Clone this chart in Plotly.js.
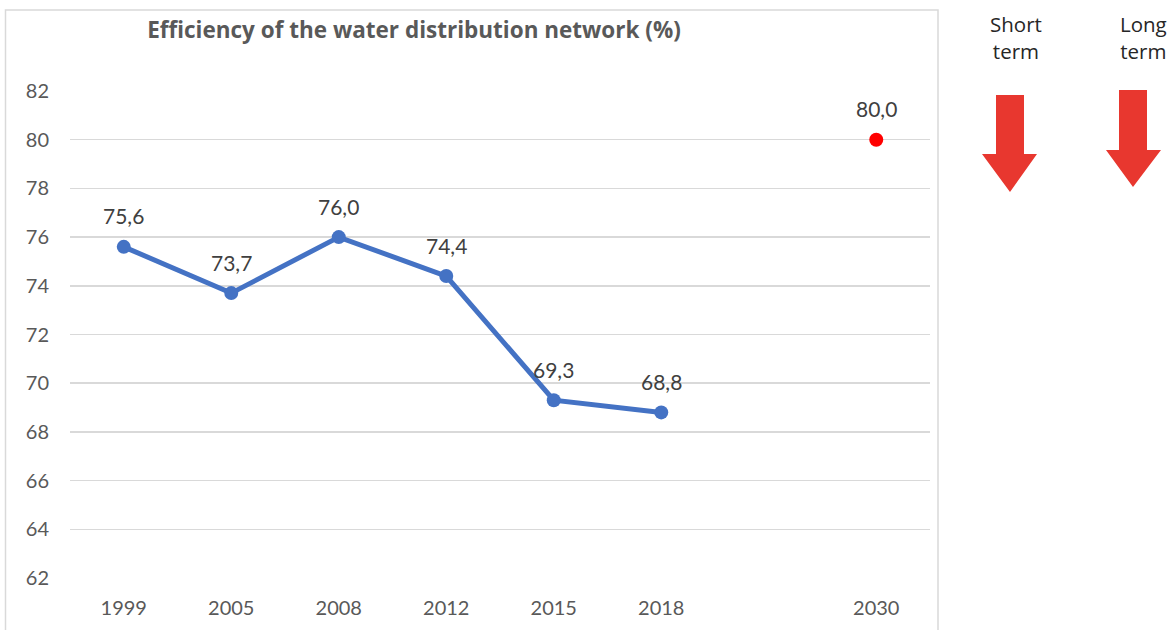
<!DOCTYPE html>
<html>
<head>
<meta charset="utf-8">
<script src="https://cdn.plot.ly/plotly-3.0.1.min.js"></script>
<style>
  html, body { margin: 0; padding: 0; background: #ffffff; }
  #chart { width: 1176px; height: 630px; }
</style>
</head>
<body>
<div id="chart"></div>
<script>
// ---- data ----
const slots = ['1999', '2005', '2008', '2012', '2015', '2018', '', '2030'];
const years = ['1999', '2005', '2008', '2012', '2015', '2018'];
const efficiency = [75.6, 73.7, 76.0, 74.4, 69.3, 68.8];
const targetYears = ['2030'];
const targetValues = [80.0];
const titleText = 'Efficiency of the water distribution network (%)';
const horizonLabels = ['Short<br>term', 'Long<br>term'];

// ---- layout geometry (pixels) ----
const W = 1176, H = 630;
const L = 70, R = 930, T = 91, B = 578;
const pw = R - L, ph = B - T;
const px = x => (x - L) / pw;
const py = y => (B - y) / ph;

const fmt = v => v.toFixed(1).replace('.', ',');
const xi = ys => ys.map(y => slots.indexOf(y));

const traces = [
  {
    x: xi(years), y: efficiency, type: 'scatter', mode: 'lines+markers',
    line: { color: '#4472C4', width: 5 },
    marker: { color: '#4472C4', size: 14 },
    hoverinfo: 'skip', showlegend: false, cliponaxis: false
  },
  {
    x: xi(targetYears), y: targetValues, type: 'scatter', mode: 'markers',
    marker: { color: '#FF0000', size: 14 },
    hoverinfo: 'skip', showlegend: false, cliponaxis: false
  }
];

const labelFont = { family: 'Lato, sans-serif', size: 21, color: '#404040' };
const annotations = [];
years.forEach((yr, i) => annotations.push({
  x: slots.indexOf(yr), y: efficiency[i], xref: 'x', yref: 'y',
  text: fmt(efficiency[i]), showarrow: false, yshift: 31, font: labelFont
}));
targetYears.forEach((yr, i) => annotations.push({
  x: slots.indexOf(yr), y: targetValues[i], xref: 'x', yref: 'y',
  text: fmt(targetValues[i]), showarrow: false, yshift: 31, font: labelFont
}));
const horizonX = [1016, 1143];
horizonLabels.forEach((t, i) => annotations.push({
  x: px(horizonX[i]), y: py(37), xref: 'paper', yref: 'paper',
  text: t, showarrow: false, xanchor: 'center', yanchor: 'middle',
  font: { family: '"Open Sans", sans-serif', size: 20.5, color: '#262626' }
}));

function arrowPath(sx0, sx1, top, headY, hx0, hx1, tipX, tipY) {
  const pts = [[sx0, top], [sx1, top], [sx1, headY], [hx1, headY], [tipX, tipY], [hx0, headY], [sx0, headY]];
  return 'M ' + pts.map(p => px(p[0]).toFixed(5) + ',' + py(p[1]).toFixed(5)).join(' L ') + ' Z';
}

const shapes = [
  {
    type: 'rect', xref: 'paper', yref: 'paper', layer: 'below',
    x0: px(5.5), x1: px(938), y0: py(640), y1: py(10),
    line: { color: '#d9d9d9', width: 1.5 }, fillcolor: 'rgba(0,0,0,0)'
  },
  {
    type: 'path', xref: 'paper', yref: 'paper',
    path: arrowPath(996, 1024, 95, 154, 982, 1037, 1010, 192),
    fillcolor: '#E8372F', line: { width: 0 }
  },
  {
    type: 'path', xref: 'paper', yref: 'paper',
    path: arrowPath(1119, 1147, 90, 150, 1106, 1161, 1133, 187),
    fillcolor: '#E8372F', line: { width: 0 }
  }
];

const layout = {
  width: W, height: H,
  margin: { l: L, r: W - R, t: T, b: H - B, pad: 0 },
  paper_bgcolor: '#ffffff', plot_bgcolor: '#ffffff',
  showlegend: false,
  title: {
    text: '<b>' + titleText + '</b>',
    xref: 'container', yref: 'container',
    x: 414 / W, y: 1 - 30 / H, xanchor: 'center', yanchor: 'middle',
    font: { family: '"Open Sans", sans-serif', size: 22.5, color: '#595959' }
  },
  xaxis: {
    type: 'linear', range: [-0.5, slots.length - 0.5],
    tickvals: slots.map((s, i) => i), ticktext: slots,
    showgrid: false, zeroline: false, showline: false, ticks: '',
    ticklabelstandoff: 16,
    tickfont: { family: 'Lato, sans-serif', size: 20, color: '#595959' },
    fixedrange: true
  },
  yaxis: {
    range: [62, 82], tick0: 62, dtick: 2,
    showgrid: true, gridcolor: '#d9d9d9', gridwidth: 1.5,
    zeroline: false, showline: false, ticks: '',
    ticklabelstandoff: 20,
    tickfont: { family: 'Lato, sans-serif', size: 20, color: '#595959' },
    fixedrange: true
  },
  annotations: annotations,
  shapes: shapes
};

Plotly.newPlot('chart', traces, layout, { displayModeBar: false, staticPlot: true });
</script>
</body>
</html>
